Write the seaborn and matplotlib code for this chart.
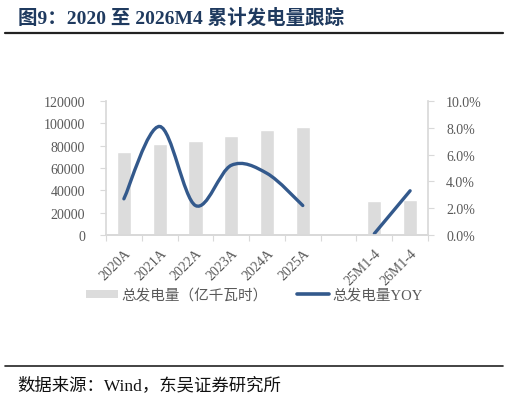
import numpy as np
import pandas as pd
import matplotlib
matplotlib.use("Agg")
import matplotlib.pyplot as plt
import seaborn as sns
from matplotlib.path import Path
from matplotlib.patches import PathPatch, Patch
from matplotlib.lines import Line2D
from matplotlib.ticker import FuncFormatter, FixedLocator

# 数据
categories = ["2020A", "2021A", "2022A", "2023A", "2024A", "2025A", "", "25M1-4", "26M1-4"]
generation = [74170, 81122, 83886, 89091, 94181, 97000, np.nan, 30200, 31300]
yoy = [0.027, 0.081, 0.022, 0.052, 0.046, 0.022, np.nan, 0.001, 0.033]

bar_color = "#DCDCDC"
line_color = "#33598C"
gray_text = "#595959"
axis_gray = "#D9D9D9"

sns.set_theme(style="white")
fonts = ["Liberation Serif", "Noto Sans CJK SC", "DejaVu Sans"]
plt.rcParams["font.family"] = fonts

fig = plt.figure(figsize=(5.09, 4.02), dpi=100)
ax = fig.add_axes([106 / 509, 1 - 236 / 402, (428 - 106) / 509, (236 - 102) / 402])

df = pd.DataFrame({"cat": categories, "val": generation})
sns.barplot(data=df, x="cat", y="val", order=categories, color=bar_color,
            width=0.4, saturation=1, ax=ax)
ax.set_xlim(-0.5, len(categories) - 0.5)
ax.set_ylim(0, 120000)
ax.set_yticks(np.arange(0, 120001, 20000))
ax.set_xlabel("")
ax.set_ylabel("")

# 右轴：平滑折线（按Excel平滑线做Bezier）
ax2 = ax.twinx()
ax2.set_ylim(0, 0.10)
ax2.set_yticks(np.arange(0, 0.1001, 0.02))
ax2.yaxis.set_major_formatter(FuncFormatter(lambda v, p: f"{v * 100:.1f}%"))


def smooth_path(xs, ys):
    pts = np.column_stack([xs, ys])
    verts = [pts[0]]
    codes = [Path.MOVETO]
    n = len(pts)
    for i in range(n - 1):
        p0 = pts[i - 1] if i > 0 else pts[i]
        p1 = pts[i]
        p2 = pts[i + 1]
        p3 = pts[i + 2] if i + 2 < n else pts[i + 1]
        c1 = p1 + (p2 - p0) / 6
        c2 = p2 - (p3 - p1) / 6
        verts += [c1, c2, p2]
        codes += [Path.CURVE4] * 3
    return Path(verts, codes)


yoy_arr = np.array(yoy)
xs = np.arange(len(categories))
seg = []
for i in range(len(xs)):
    if np.isnan(yoy_arr[i]):
        if seg:
            ax2.add_patch(PathPatch(smooth_path(xs[seg], yoy_arr[seg]), fill=False,
                                    edgecolor=line_color, lw=2.4, capstyle="round"))
        seg = []
    else:
        seg.append(i)
if seg:
    ax2.add_patch(PathPatch(smooth_path(xs[seg], yoy_arr[seg]), fill=False,
                            edgecolor=line_color, lw=2.4, capstyle="round"))

# 坐标轴样式
for a in (ax, ax2):
    a.spines["top"].set_visible(False)
    a.spines["left"].set_visible(False)
    a.spines["right"].set_visible(False)
    a.spines["bottom"].set_color(axis_gray)
ax.spines["left"].set_visible(True)
ax.spines["left"].set_color(axis_gray)
ax2.spines["right"].set_visible(True)
ax2.spines["right"].set_color(axis_gray)
ax.grid(False)
ax2.grid(False)

ax.tick_params(axis="y", length=4, width=0.8, color=axis_gray, pad=11,
               labelcolor=gray_text, labelsize=10, left=True)
ax2.tick_params(axis="y", length=4, width=0.8, color=axis_gray, pad=9,
                labelcolor=gray_text, labelsize=10, right=True)

ax.set_xticks(xs)
ax.set_xticklabels(categories, rotation=45, ha="right", rotation_mode="anchor",
                   color=gray_text, fontsize=10)
ax.xaxis.set_minor_locator(FixedLocator(np.arange(-0.5, len(categories), 1)))
ax.tick_params(axis="x", which="major", length=0, pad=8)
ax.tick_params(axis="x", which="minor", length=4, width=0.8, color=axis_gray, bottom=True)

# 图例
handles = [Patch(facecolor=bar_color, edgecolor="none"),
           Line2D([0], [0], color=line_color, lw=2.6)]
labels = ["总发电量（亿千瓦时）", "总发电量YOY"]
fig.legend(handles, labels, loc="center", bbox_to_anchor=(0.5, 1 - 296 / 402), ncol=2,
           frameon=False, fontsize=10.5, handlelength=2.2, handleheight=0.5,
           handletextpad=0.25, columnspacing=2.0, labelcolor=gray_text)

# 标题与来源
fig.text(18 / 509, 1 - 18 / 402, "图9：2020 至 2026M4 累计发电量跟踪", fontsize=14,
         fontweight="bold", color="#1F3A5F", va="center", ha="left")
fig.add_artist(Line2D([5 / 509, 503 / 509], [1 - 33.5 / 402] * 2, color="#222222", lw=1.6))
fig.add_artist(Line2D([5 / 509, 503 / 509], [1 - 367 / 402] * 2, color="#222222", lw=1.2))
fig.text(17 / 509, 1 - 386 / 402, "数据来源：Wind，东吴证券研究所", fontsize=12.5,
         color="#111111", va="center", ha="left")

fig.savefig("out.png", dpi=100)
